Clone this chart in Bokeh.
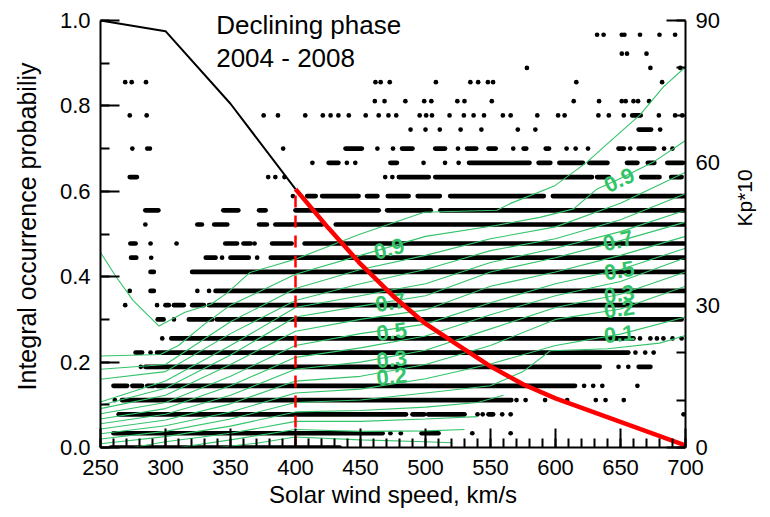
import math
from bokeh.plotting import figure
from bokeh.models import Range1d, LinearAxis, FixedTicker, PrintfTickFormatter, Label, ColumnDataSource
from bokeh.core.properties import value
from bokeh.embed import file_html
from bokeh.resources import INLINE

FONT = "Liberation Sans"
GREEN = "#33c46a"

# ---------------- integral occurrence probability (left axis) ----------------
speed_black = [250, 300, 350, 400]
prob_black = [1.0, 0.975, 0.805, 0.605]
speed_red = [400, 425, 450, 475, 500, 525, 550, 575, 600, 700]
prob_red = [0.605, 0.515, 0.43, 0.355, 0.29, 0.24, 0.19, 0.148, 0.115, 0.005]
threshold_speed = 400
threshold_prob = 0.605

# ---------------- observed Kp*10 vs speed (right axis) ----------------
# numbers = single observations, (a, b) = speeds densely covered by observations
kp87 = [632, 637, 651, 653, 665, 680, 692]
kp83 = [651, 655, 670]
kp80 = [578, 673, 696]
kp77 = [269, 274, 285, 461.5, 465.5, 472.5, 508, 534.5, 540.5, 548, 552, 616, 682]
kp73 = [461, 468.5, 484.5, 499, 504.5, 524.5, 530, 551, 614, 633.5, 651, 654, 660, 663.5, 672]
kp70 = [272.5, 285.5, 375.5, 386.5, 407.5, 421, 427, 433, 441, 454, 464, 471.5, 477.5, 495.5,
        500.5, 505, 518.5, 529.5, 537, 545, 559.5, 565.5, 586, 602, 607, 633, 641, 652.5, 659,
        (660.5, 665.5), 679.5, 692, 697.5]
kp67 = [488.5, 500, 511, 527, 543, 571, 584.5, (664, 673.5), 680.5]
kp63 = [274.5, 286, 288, 390.5, (438.5, 451), 463, 475, (482, 490), (507.5, 515), 525, (532, 539),
        (548.5, 554), 567.5, (575.5, 577.5), (592.5, 595), 608.5, 615.5, 625, (648.5, 652.5), 657.5,
        (664, 676), 683.5, 690]
kp60 = [413, (425.5, 433), 439.5, 446, (473, 478), 498.5, 515, 525.5, (533.5, 580), (587, 596),
        (603, 621), (626, 640), (655, 663), (671, 676), (686, 698)]
kp57 = [(272.5, 278), 379, 384.5, 391.5, 469, 474.5, (479.5, 502.5), (507.5, 628), (632, 641),
        (666, 680), (689, 697)]
kp53 = [398, (409, 415.5), (420.5, 448.5), (455, 463), (471, 487), (494, 511), (519, 591), (598, 700)]
kp50 = [(284.5, 294.5), (344.5, 356), (372, 377), (400, 464), (470.5, 504), (511.5, 700)]
kp47 = [284.5, (324.5, 328), (337.5, 347.5), (372, 378), (384.5, 420.5), (431, 700)]
kp43 = [(273, 277), 288.5, 308.5, (346, 355), (360, 365.5), 368.5, (382, 397), (407, 700)]
kp40 = [(273.5, 277.5), 289, (331, 338.5), 343.5, (350, 364), 370.5, (381, 700)]
kp37 = [(288.5, 291), (320.5, 700)]
kp33 = [272.5, (288.5, 291), 324.5, 333.5, (338.5, 700)]
kp30 = [269, 293.5, (300, 302.5), (306.5, 314), (320.5, 329.5), (333.5, 700)]
kp27 = [(294, 298.5), 306.5, (318, 336), (339.5, 697)]
kp23 = [297.5, (304.5, 660), 665, 673, 678, 683, 690, 697]
kp20 = [(277, 282), 288.5, (293.5, 656), 661.5, 669, 675.5]
kp17 = [281, (284.5, 634), 648.5, 656, (664, 673)]
kp13 = [(260, 270.5), (274.5, 282), (286, 291), (293.5, 615), 622, 629, 636, 663]
kp10 = [261, (266.5, 566), 570, 577, 592, 609, 631, 638.5, 652.5]
kp7 = [(264, 485), (490, 499), (502, 530), 540, 544, (548.5, 552), 559, 565.5, 698.5]
kp3 = [(260, 467), 473, 481, (497, 510), 536, 565.5]
kp0 = [(258, 434)]

kp_levels = [87, 83, 80, 77, 73, 70, 67, 63, 60, 57, 53, 50, 47, 43, 40, 37, 33, 30, 27, 23, 20, 17, 13, 10, 7, 3, 0]
kp_rows = [kp87, kp83, kp80, kp77, kp73, kp70, kp67, kp63, kp60, kp57, kp53, kp50, kp47, kp43, kp40,
           kp37, kp33, kp30, kp27, kp23, kp20, kp17, kp13, kp10, kp7, kp3, kp0]

# ---------------- probability contours (Kp*10 units) ----------------
grid_speed = [250, 300, 350, 400, 450, 500, 550, 600, 650, 700]
c85 = [16.5, 17.5, 26.5, 33.5, 37.5, 40.5, 44.0, 46.5, 51.5, 58.0]
c80 = [14.4, 16.0, 24.0, 31.0, 34.5, 37.5, 41.5, 44.0, 48.0, 53.5]
c75 = [9.6, 14.0, 21.5, 29.5, 32.0, 34.5, 39.0, 42.0, 45.5, 50.0]
c70 = [8.9, 12.5, 19.5, 27.5, 29.8, 32.0, 37.0, 40.0, 43.6, 47.5]
c60 = [8.2, 11.0, 17.5, 24.5, 27.0, 29.0, 34.0, 37.0, 40.5, 44.5]
c50 = [7.1, 9.5, 15.0, 21.5, 24.0, 26.0, 30.5, 34.5, 37.5, 42.0]
c40 = [6.0, 8.2, 13.0, 19.0, 21.0, 23.5, 28.0, 32.0, 35.0, 40.0]
c30 = [5.0, 7.0, 11.0, 16.5, 18.0, 20.5, 25.0, 29.5, 32.3, 37.0]
c20 = [3.9, 5.8, 9.2, 14.0, 15.0, 17.5, 21.5, 27.0, 29.2, 34.0]
c10 = [2.9, 4.6, 7.5, 11.5, 12.3, 14.5, 17.6, 21.5, 23.9, 27.5]

c99_speed = [250, 262, 275, 295, 315, 335, 348, 365, 383, 400, 450, 499, 555, 565, 599, 624, 637, 665, 683, 700]
c99 = [41.1, 36.0, 31.0, 25.6, 28.5, 30.2, 32.7, 36.9, 38.3, 39.7, 45.0, 49.6, 50.0, 51.4, 55.1, 60.1, 63.3, 70.1, 76.0, 80.2]
c90_speed = [250, 296, 310, 330, 350, 400, 450, 500, 554, 588, 614, 632, 649, 675, 700]
c90 = [19.3, 19.6, 21.5, 26.0, 30.0, 36.5, 40.5, 44.5, 46.8, 48.5, 50.3, 54.5, 56.6, 60.1, 64.7]
c07_speed = [250, 300, 350, 400, 450, 500, 550, 575, 596, 640, 680, 700]
c07 = [1.8, 3.4, 6.0, 9.5, 10.0, 11.5, 13.0, 16.0, 20.4, 20.8, 22.0, 23.6]
c05_speed = [250, 300, 350, 400, 450, 500, 540, 560]
c05 = [0.8, 2.3, 4.5, 7.5, 7.8, 8.5, 9.5, 11.0]
c04_speed = [275, 300, 350, 400, 450, 500, 540]
c04 = [0.0, 1.2, 3.0, 5.5, 5.5, 6.0, 6.5]
c03_speed = [310, 350, 400, 450, 500, 530]
c03 = [0.0, 1.6, 3.8, 3.4, 3.5, 3.8]
c02_speed = [340, 370, 400, 450, 500, 520]
c02 = [0.0, 0.9, 2.2, 1.6, 1.2, 1.0]

label_text = ["0.9", "0.7", "0.5", "0.3", "0.2", "0.9", "0.7", "0.5", "0.3", "0.2", "0.1"]
label_speed = [472, 473, 474, 474, 474, 649, 648, 649, 649, 649, 649]
label_kp = [41.9, 30.6, 24.4, 18.6, 15.0, 56.4, 43.6, 37.3, 32.3, 29.2, 23.9]
label_angle_deg = [15, 10, 8, 6, 6, 25, 14, 10, 8, 8, 6]

x_ticks = [250, 300, 350, 400, 450, 500, 550, 600, 650, 700]
y_ticks = [0.0, 0.2, 0.4, 0.6, 0.8, 1.0]
kp_ticks = [0, 30, 60, 90]

# ---------------- build ----------------
dot_x, dot_y, seg_x0, seg_x1, seg_y = [], [], [], [], []
for kp, row in zip(kp_levels, kp_rows):
    for item in row:
        if isinstance(item, tuple):
            seg_x0.append(item[0]); seg_x1.append(item[1]); seg_y.append(kp)
        else:
            dot_x.append(item); dot_y.append(kp)

# frame extends 15 px above the axes' top (1.0 / 90) so the in-plot heading is not clipped;
# the axis lines themselves stop at 1.0 / 90 via `bounds`
HEAD = 1 + 15 / 427
p = figure(width=770, height=517, x_range=Range1d(250, 700), y_range=Range1d(0, HEAD),
           output_backend="svg", toolbar_location=None,
           min_border_left=100, min_border_right=85, min_border_top=5, min_border_bottom=70)
p.extra_y_ranges = {"kp": Range1d(0, 90 * HEAD)}
p.outline_line_color = None
p.xgrid.visible = False
p.ygrid.visible = False
p.background_fill_color = "white"

p.segment(x0=seg_x0, y0=seg_y, x1=seg_x1, y1=seg_y, y_range_name="kp",
          line_color="black", line_width=4.7, line_cap="round")
p.scatter(dot_x, dot_y, y_range_name="kp", size=4.7, marker="circle",
          fill_color="black", line_color=None)

grid_lines = [c85, c80, c75, c70, c60, c50, c40, c30, c20, c10]
xs = [grid_speed for _ in grid_lines] + [c99_speed, c90_speed, c07_speed, c05_speed, c04_speed, c03_speed, c02_speed]
ys = grid_lines + [c99, c90, c07, c05, c04, c03, c02]
p.multi_line(xs, ys, y_range_name="kp", line_color=GREEN, line_width=1.1)

lab_src = ColumnDataSource(dict(x=label_speed, y=label_kp, t=label_text,
                                a=[math.radians(d) for d in label_angle_deg]))
p.text(x="x", y="y", text="t", angle="a", source=lab_src, y_range_name="kp",
       text_color=GREEN, text_font=value(FONT), text_font_size="22px", text_font_style="bold",
       text_align="center", text_baseline="middle")

p.line(speed_black, prob_black, line_color="black", line_width=2)
p.line(speed_red, prob_red, line_color="#ff0000", line_width=4.5)
p.segment(x0=[threshold_speed], y0=[0], x1=[threshold_speed], y1=[threshold_prob],
          line_color="#ff0000", line_width=2.5, line_dash="12 8")

for txt, yy in [("Declining phase", 0.989), ("2004 - 2008", 0.912)]:
    p.add_layout(Label(x=339, y=yy, text=txt, text_font=FONT, text_font_size="26px",
                       text_color="black", text_baseline="alphabetic", text_align="left"))

right = LinearAxis(y_range_name="kp", axis_label="Kp*10", bounds=(0, 90))
p.add_layout(right, "right")
p.yaxis[0].bounds = (0, 1)

p.xaxis.ticker = FixedTicker(ticks=x_ticks, minor_ticks=list(range(250, 701, 10)))
p.yaxis.ticker = FixedTicker(ticks=y_ticks, minor_ticks=[i / 10 for i in range(11)])
right.ticker = FixedTicker(ticks=kp_ticks, minor_ticks=list(range(0, 91, 10)))
p.yaxis[0].formatter = PrintfTickFormatter(format="%.1f")
p.xaxis.axis_label = "Solar wind speed, km/s"
p.yaxis[0].axis_label = "Integral occurrence probabiliy"

for ax in [p.xaxis[0], p.yaxis[0], right]:
    ax.axis_line_width = 2
    ax.axis_line_color = "black"
    ax.major_tick_in = 19
    ax.major_tick_out = 0
    ax.minor_tick_in = 9
    ax.minor_tick_out = 0
    ax.major_tick_line_width = 2
    ax.minor_tick_line_width = 2
    ax.major_tick_line_color = "black"
    ax.minor_tick_line_color = "black"
    ax.major_label_text_font = FONT
    ax.major_label_text_font_size = "22px"
    ax.major_label_text_color = "black"
    ax.axis_label_text_font = FONT
    ax.axis_label_text_font_style = "normal"
    ax.axis_label_text_color = "black"

p.xaxis[0].major_label_standoff = 12
p.xaxis[0].axis_label_standoff = 3
p.xaxis[0].axis_label_text_font_size = "24px"
p.yaxis[0].major_label_standoff = 10
p.yaxis[0].axis_label_standoff = 16
p.yaxis[0].axis_label_text_font_size = "25px"
right.major_label_standoff = 10
right.axis_label_standoff = 22
right.axis_label_text_font_size = "21px"
right.axis_label_orientation = math.pi / 2

open("out.html", "w").write(file_html(p, INLINE))
